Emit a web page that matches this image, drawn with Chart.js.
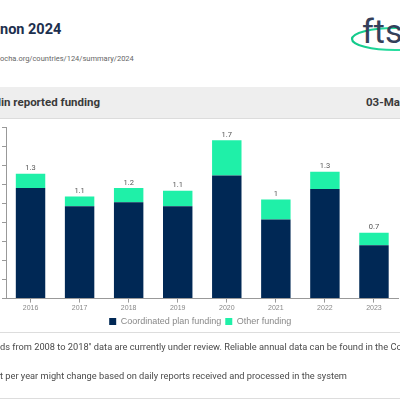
<html>
<head>
<meta charset="UTF-8">
<title>Lebanon 2024</title>
<style>
* {
    font-family: Roboto, "Noto Sans", Arial, sans-serif;
}

body {
    margin: 0;
    width: 400px;
    height: 400px;
    overflow: hidden;
    position: relative;
    background: white;
}

.abs {
    position: absolute;
    white-space: nowrap;
}

.cut {
    position: absolute;
    right: 100%;
}

h1.title {
    left: 0;
    top: 21px;
    margin: 0;
    font-size: 14.5px;
    font-weight: 700;
    color: #1d2f4e;
}

div.url {
    left: 0;
    top: 54px;
    font-size: 7.5px;
    color: #666;
}

div.bar {
    left: 0;
    top: 87px;
    width: 400px;
    height: 31px;
    background: #eeeeee;
    border-bottom: 1px solid #dcdcdc;
}

div.bar span.t {
    position: absolute;
    top: 8px;
    font-size: 11.5px;
    font-weight: 700;
    color: #3a3a3a;
    white-space: nowrap;
}

div.chart {
    left: 0;
    top: 118px;
    width: 400px;
    height: 218px;
}

div.note {
    left: 0;
    font-size: 9.25px;
    color: #4a4a4a;
}

hr.rule {
    position: absolute;
    left: 0;
    width: 400px;
    margin: 0;
    border: 0;
    border-top: 1px solid #dddddd;
}
</style>
<script src="https://cdnjs.cloudflare.com/ajax/libs/Chart.js/4.2.1/chart.umd.min.js"></script>
</head>
<body>

<h1 class="abs title"><span class="cut">Leba</span>non 2024</h1>
<div class="abs url"><span class="cut">https://fts.un</span>ocha.org/countries/124/summary/2024</div>

<svg class="abs" style="left:348px; top:8px" width="52" height="48" viewBox="0 0 52 48">
<defs>
<linearGradient id="g" x1="0" x2="1" y1="0" y2="0">
<stop offset="0" stop-color="#12c98a"/>
<stop offset="1" stop-color="#3cf0b4"/>
</linearGradient>
</defs>
<ellipse cx="47" cy="31" rx="43" ry="11" fill="none" stroke="url(#g)" stroke-width="2.2"/>
<text x="14" y="35" font-family="Roboto, sans-serif" font-size="34" fill="#34405a">fts</text>
</svg>

<div class="abs bar">
<span class="t" style="left:1px"><span class="cut">Trend </span>in reported funding</span>
<span class="t" style="left:366px">03-Mar-2024</span>
</div>

<div class="abs chart"><canvas id="canvas"></canvas></div>

<hr class="rule" style="top:332px">
<div class="abs note" style="top:341px"><span class="cut">*Fun</span>ds from 2008 to 2018" data are currently under review. Reliable annual data can be found in the Country profile pages</div>
<div class="abs note" style="top:370px"><span class="cut">The amoun</span>t per year might change based on daily reports received and processed in the system</div>
<hr class="rule" style="top:398px">

<script>
// US$ billion
const years = ["2016", "2017", "2018", "2019", "2020", "2021", "2022", "2023"]
const coordinated = [1.16, 0.97, 1.01, 0.97, 1.29, 0.83, 1.15, 0.56]
const other = [0.15, 0.10, 0.15, 0.16, 0.37, 0.21, 0.18, 0.13]

const totalLabels = {
    id: "totalLabels",
    afterDatasetsDraw(chart) {
        const ctx = chart.ctx
        const meta = chart.getDatasetMeta(1)
        ctx.save()
        ctx.font = "7.5px Roboto, sans-serif"
        ctx.fillStyle = "#555"
        ctx.textAlign = "center"
        ctx.textBaseline = "bottom"
        meta.data.forEach((bar, i) => {
            const total = Math.round((coordinated[i] + other[i]) * 10) / 10
            ctx.fillText(String(total), bar.x, bar.y - 1.5)
        })
        ctx.restore()
    }
}

const ctx = document.getElementById("canvas").getContext("2d")
const chart = new Chart(ctx, {
    type: "bar",
    data: {
        labels: years,
        datasets: [
            {label: "Coordinated plan funding", data: coordinated, backgroundColor: "#002855"},
            {label: "Other funding", data: other, backgroundColor: "#1ff0a8"},
        ],
    },
    options: {
        responsive: true,
        maintainAspectRatio: false,
        animation: false,
        categoryPercentage: 1,
        barPercentage: 0.6,
        layout: {padding: {top: 9, left: 2, right: 1.5, bottom: 0}},
        plugins: {
            legend: {
                position: "bottom",
                labels: {
                    boxWidth: 7,
                    boxHeight: 7,
                    padding: 4,
                    color: "#888",
                    font: {size: 9},
                },
            },
            tooltip: {enabled: false},
        },
        scales: {
            x: {
                stacked: true,
                grid: {offset: false, drawOnChartArea: false, tickLength: 4, color: "#999"},
                border: {color: "#999"},
                ticks: {color: "#888", font: {size: 7}, padding: 1},
            },
            y: {
                stacked: true,
                min: 0,
                max: 1.8,
                grid: {drawOnChartArea: false, tickLength: 4, color: "#999"},
                border: {color: "#999"},
                ticks: {display: false, stepSize: 0.2},
            },
        },
    },
    plugins: [totalLabels],
})
</script>
</body>
</html>
